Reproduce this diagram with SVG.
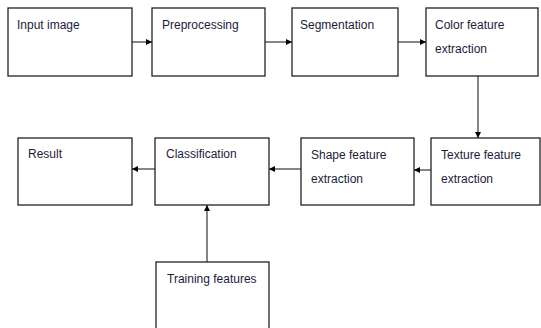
<svg xmlns="http://www.w3.org/2000/svg" width="541" height="328" viewBox="0 0 541 328">
<style>
.box{fill:#fff;stroke:#222;stroke-width:1.3}
.lbl{font-family:"Liberation Sans",Arial,sans-serif;font-size:12px;fill:#1c1c3a}
.con{stroke:#444;stroke-width:1.3;fill:none;marker-end:url(#ah)}
</style>
<defs>
<marker id="ah" viewBox="0 0 10 10" refX="10" refY="5" markerWidth="6" markerHeight="6" markerUnits="userSpaceOnUse" orient="auto">
<path d="M0,0 L10,5 L0,10 z" fill="#000"/>
</marker>
</defs>
<rect width="541" height="328" fill="#fff"/>
<g id="connectors">
<line class="con" x1="132" y1="42" x2="152" y2="42"/>
<line class="con" x1="265" y1="42" x2="292" y2="42"/>
<line class="con" x1="398" y1="42" x2="426" y2="42"/>
<line class="con" x1="478" y1="76" x2="478" y2="138"/>
<line class="con" x1="431" y1="170" x2="414" y2="170"/>
<line class="con" x1="301" y1="169" x2="269" y2="169"/>
<line class="con" x1="155" y1="169" x2="132" y2="169"/>
<line class="con" x1="207" y1="262" x2="207" y2="205"/>
</g>
<g id="input-image">
<rect class="box" x="8" y="8" width="124" height="68"/>
<text class="lbl" x="17" y="29">Input image</text>
</g>
<g id="preprocessing">
<rect class="box" x="152" y="8" width="113" height="68"/>
<text class="lbl" x="162" y="29">Preprocessing</text>
</g>
<g id="segmentation">
<rect class="box" x="292" y="8" width="106" height="68"/>
<text class="lbl" x="300" y="29">Segmentation</text>
</g>
<g id="color-feature">
<rect class="box" x="426" y="8" width="112" height="68"/>
<text class="lbl" x="435" y="29">Color feature</text>
<text class="lbl" x="435" y="53">extraction</text>
</g>
<g id="texture-feature">
<rect class="box" x="431" y="138" width="109" height="67"/>
<text class="lbl" x="441" y="159">Texture feature</text>
<text class="lbl" x="441" y="183">extraction</text>
</g>
<g id="shape-feature">
<rect class="box" x="301" y="138" width="113" height="67"/>
<text class="lbl" x="311" y="159">Shape feature</text>
<text class="lbl" x="311" y="183">extraction</text>
</g>
<g id="classification">
<rect class="box" x="155" y="138" width="114" height="67"/>
<text class="lbl" x="166" y="158">Classification</text>
</g>
<g id="result">
<rect class="box" x="18" y="138" width="114" height="67"/>
<text class="lbl" x="28" y="158">Result</text>
</g>
<g id="training-features">
<rect class="box" x="156" y="262" width="113" height="80"/>
<text class="lbl" x="167" y="283">Training features</text>
</g>
</svg>
